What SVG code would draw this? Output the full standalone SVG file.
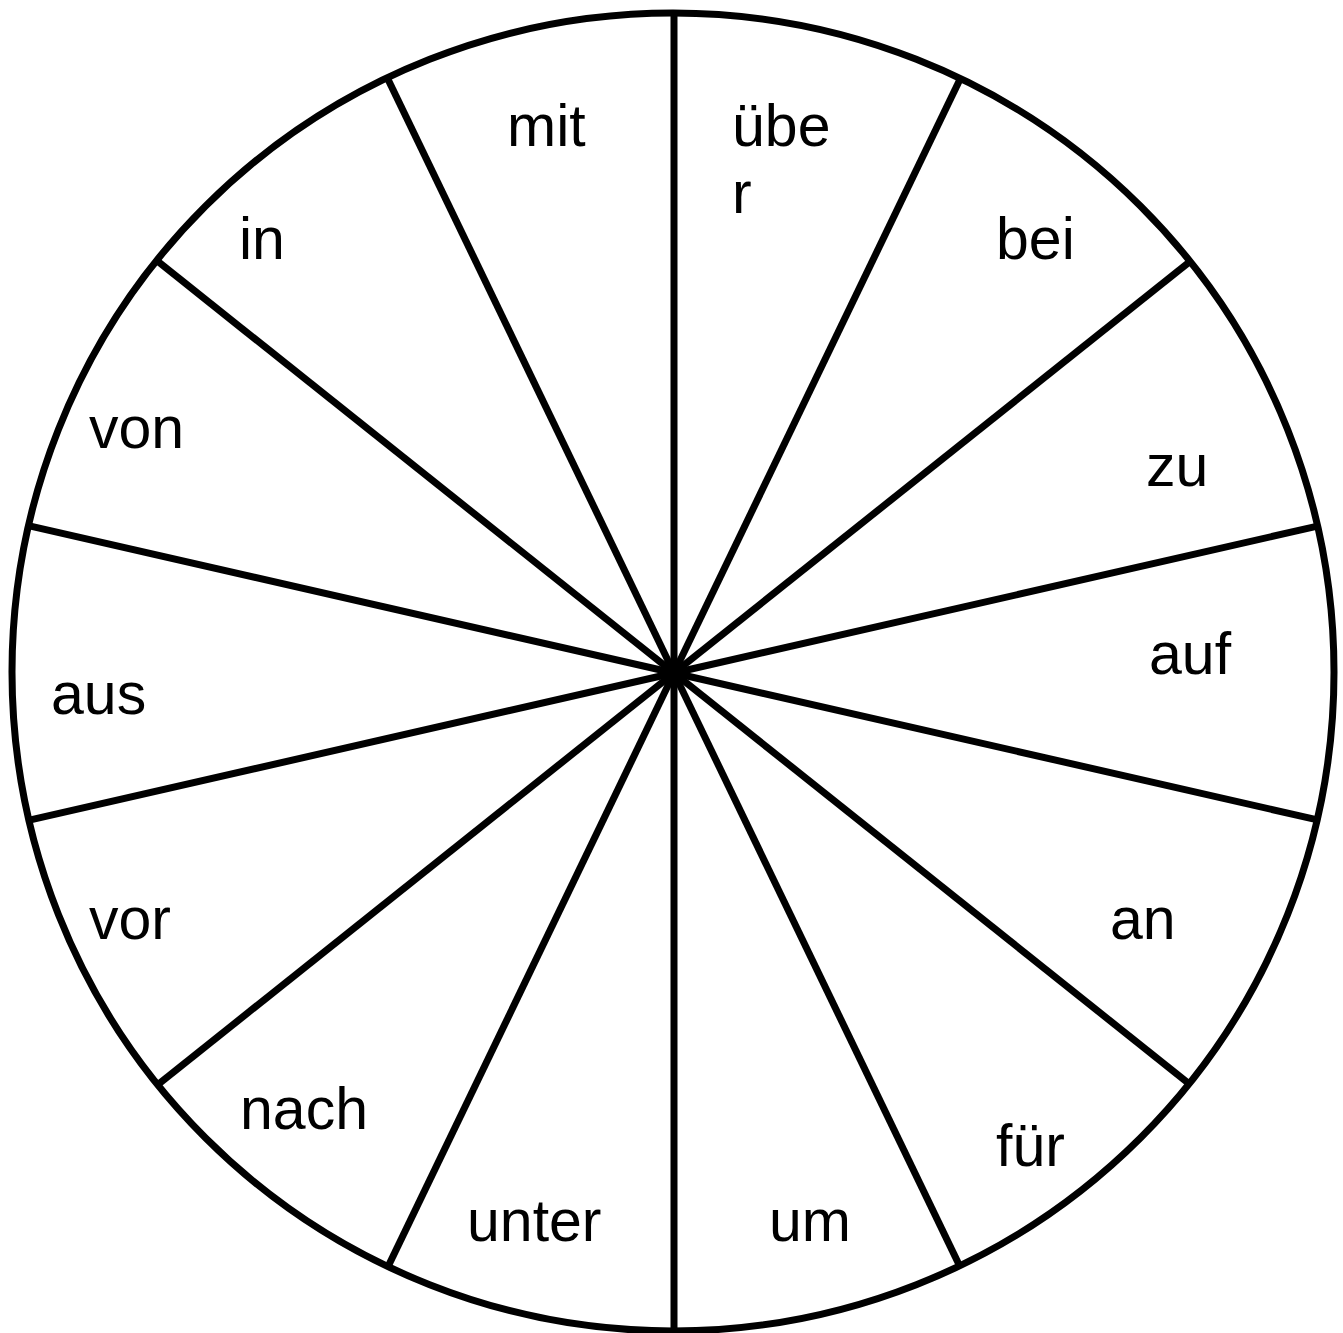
<svg xmlns="http://www.w3.org/2000/svg" width="1343" height="1333" viewBox="0 0 1343 1333">
<style>
.ln{stroke:#000;stroke-width:7;fill:none}
.t{font-family:"Liberation Sans",Arial,sans-serif;font-size:59px;fill:#000}
</style>
<rect width="1343" height="1333" fill="#fff"/>
<g id="connectors">
<line class="ln" x1="674" y1="673" x2="674.0" y2="13.0"/>
<line class="ln" x1="674" y1="673" x2="960.4" y2="78.4"/>
<line class="ln" x1="674" y1="673" x2="1190.0" y2="261.5"/>
<line class="ln" x1="674" y1="673" x2="1317.5" y2="526.1"/>
<line class="ln" x1="674" y1="673" x2="1317.5" y2="819.9"/>
<line class="ln" x1="674" y1="673" x2="1190.0" y2="1084.5"/>
<line class="ln" x1="674" y1="673" x2="960.4" y2="1267.6"/>
<line class="ln" x1="674" y1="673" x2="674.0" y2="1333.0"/>
<line class="ln" x1="674" y1="673" x2="387.6" y2="1267.6"/>
<line class="ln" x1="674" y1="673" x2="158.0" y2="1084.5"/>
<line class="ln" x1="674" y1="673" x2="30.5" y2="819.9"/>
<line class="ln" x1="674" y1="673" x2="30.5" y2="526.1"/>
<line class="ln" x1="674" y1="673" x2="158.0" y2="261.5"/>
<line class="ln" x1="674" y1="673" x2="387.6" y2="78.4"/>
</g>
<g id="wheel"><ellipse class="ln" cx="673" cy="672" rx="661" ry="659"/></g>
<g id="labels">
<g id="n-mit"><text class="t" x="507" y="146">mit</text></g>
<g id="n-ueber"><text class="t" x="732" y="146">übe</text><text class="t" x="732" y="213">r</text></g>
<g id="n-bei"><text class="t" x="996" y="259">bei</text></g>
<g id="n-in"><text class="t" x="239" y="259">in</text></g>
<g id="n-von"><text class="t" x="89" y="448">von</text></g>
<g id="n-zu"><text class="t" x="1146" y="486">zu</text></g>
<g id="n-auf"><text class="t" x="1149" y="674">auf</text></g>
<g id="n-aus"><text class="t" x="51" y="714">aus</text></g>
<g id="n-vor"><text class="t" x="89" y="939">vor</text></g>
<g id="n-an"><text class="t" x="1110" y="939">an</text></g>
<g id="n-nach"><text class="t" x="240" y="1129">nach</text></g>
<g id="n-fuer"><text class="t" x="996" y="1166">für</text></g>
<g id="n-unter"><text class="t" x="467" y="1241">unter</text></g>
<g id="n-um"><text class="t" x="769" y="1241">um</text></g>
</g>
</svg>
